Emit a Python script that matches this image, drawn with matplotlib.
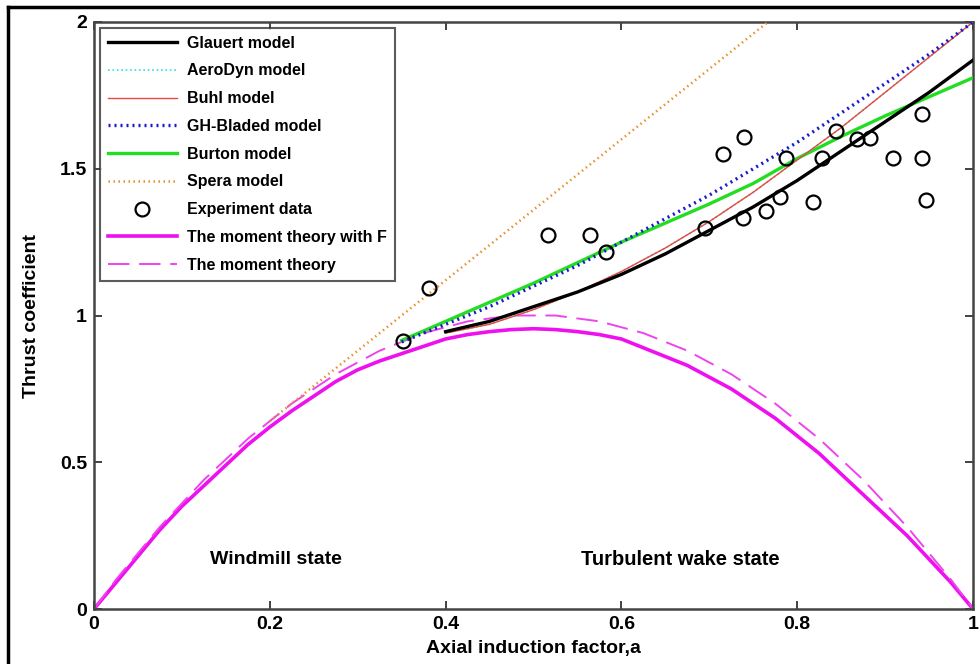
import numpy as np
import matplotlib
matplotlib.use("Agg")
import matplotlib.pyplot as plt
from matplotlib.lines import Line2D

# -----------------------------
# Data
# -----------------------------
a_full = [0, .025, .05, .075, .1, .125, .15, .175, .2, .225, .25, .275, .3, .325,
          .35, .375, .4, .425, .45, .475, .5, .525, .55, .575, .6, .625, .65, .675,
          .7, .725, .75, .775, .8, .825, .85, .875, .9, .925, .95, .975, 1.0]
ct_moment = [0, .10, .19, .28, .36, .44, .51, .58, .64, .70, .75, .80, .84, .88,
             .91, .94, .96, .98, .99, 1.0, 1.0, 1.0, .99, .98, .96, .94, .91, .88,
             .84, .80, .75, .70, .64, .58, .51, .44, .36, .28, .19, .10, 0]
ct_moment_f = [0, .09, .18, .27, .35, .42, .49, .56, .62, .675, .725, .775, .815, .845,
               .87, .895, .92, .935, .945, .952, .955, .952, .945, .935, .92, .89, .86, .83,
               .79, .75, .70, .65, .59, .53, .46, .39, .32, .25, .17, .09, 0]

a_high = [.40, .45, .50, .55, .60, .65, .70, .75, .80, .85, .90, .95, 1.0]
ct_glauert = [.945, .98, 1.03, 1.08, 1.14, 1.21, 1.29, 1.37, 1.46, 1.56, 1.66, 1.76, 1.87]
ct_buhl = [.94, .97, 1.02, 1.08, 1.15, 1.23, 1.32, 1.42, 1.53, 1.64, 1.76, 1.88, 2.0]
ct_aerodyn = [.94, .97, 1.02, 1.08, 1.15, 1.23, 1.32, 1.42, 1.53, 1.64, 1.76, 1.88, 2.0]

a_mid = [.35, .40, .45, .50, .55, .60, .65, .70, .75, .80, .85, .90, .95, 1.0]
ct_bladed = [.91, .97, 1.03, 1.10, 1.17, 1.25, 1.33, 1.41, 1.50, 1.59, 1.69, 1.79, 1.89, 2.0]
ct_burton = [.915, .98, 1.045, 1.11, 1.18, 1.25, 1.315, 1.38, 1.45, 1.535, 1.61, 1.68, 1.745, 1.81]

a_spera = [.2, .3, .4, .5, .6, .7, .8]
ct_spera = [.64, .88, 1.12, 1.36, 1.60, 1.84, 2.08]

a_exp = [.352, .381, .516, .564, .582, .695, .716, .740, .738, .765, .780,
         .787, .818, .828, .844, .868, .883, .909, .942, .942, .947]
ct_exp = [.913, 1.094, 1.275, 1.275, 1.218, 1.297, 1.549, 1.608, 1.332, 1.355, 1.403,
          1.537, 1.386, 1.537, 1.628, 1.600, 1.606, 1.537, 1.688, 1.537, 1.395]

# -----------------------------
# Style
# -----------------------------
plt.rcParams.update({
    "font.family": ["Liberation Sans", "DejaVu Sans"],
    "font.weight": "bold",
    "axes.labelweight": "bold",
})

fig = plt.figure(figsize=(9.8, 6.64), dpi=100)
ax = fig.add_axes([94 / 980, 1 - 609 / 664, 879 / 980, 587 / 664])

ax.plot(a_high, ct_glauert, color="black", lw=2.4, label="Glauert model", zorder=5)
ax.plot(a_high, ct_aerodyn, color="#33dddd", lw=1.2, ls=":", label="AeroDyn model", zorder=4)
ax.plot(a_high, ct_buhl, color="#e8483f", lw=1.0, label="Buhl model", zorder=4)
ax.plot(a_mid, ct_bladed, color="#1a1acc", lw=2.4, ls=(0, (0.6, 1.2)), label="GH-Bladed model", zorder=4)
ax.plot(a_mid, ct_burton, color="#22dd22", lw=2.4, label="Burton model", zorder=3)
ax.plot(a_spera, ct_spera, color="#e8902a", lw=1.8, ls=(0, (0.6, 1.4)), label="Spera model", zorder=3)
ax.plot(a_exp, ct_exp, ls="none", marker="o", ms=10, mfc="none", mec="black", mew=1.6,
        label="Experiment data", zorder=6)
ax.plot(a_full, ct_moment_f, color="#ee10ee", lw=2.6, label="The moment theory with F", zorder=2)
ax.plot(a_full, ct_moment, color="#ee44ee", lw=1.4, ls=(0, (11, 5)), label="The moment theory", zorder=2)

ax.text(0.207, 0.168, "Windmill state", ha="center", va="center", fontsize=14)
ax.text(0.667, 0.168, "Turbulent wake state", ha="center", va="center", fontsize=14.5)

ax.set_xlim(0, 1)
ax.set_ylim(0, 2)
ax.set_xticks([0, 0.2, 0.4, 0.6, 0.8, 1])
ax.set_xticklabels(["0", "0.2", "0.4", "0.6", "0.8", "1"])
ax.set_yticks([0, 0.5, 1, 1.5, 2])
ax.set_yticklabels(["0", "0.5", "1", "1.5", "2"])
ax.tick_params(direction="in", top=True, right=True, length=6, width=1.3,
               labelsize=14, color="#333333", pad=5)
for s in ax.spines.values():
    s.set_linewidth(1.8)
    s.set_color("#444444")
ax.set_xlabel("Axial induction factor,a", fontsize=14, labelpad=5)
ax.set_ylabel("Thrust coefficient", fontsize=14, labelpad=14)

leg = ax.legend(loc="upper left", frameon=True, fancybox=False,
                prop={"size": 11.5, "weight": "bold"},
                borderaxespad=0.35, handlelength=4.35, labelspacing=0.8,
                handletextpad=0.6, borderpad=0.5)
leg.get_frame().set_edgecolor("#333333")
leg.get_frame().set_linewidth(1.5)

# outer frame (left and top edges visible in the picture)
fig.add_artist(Line2D([8 / 980, 8 / 980], [0, 1 - 7 / 664], transform=fig.transFigure,
                      color="black", lw=2.5))
fig.add_artist(Line2D([8 / 980, 1], [1 - 7 / 664, 1 - 7 / 664], transform=fig.transFigure,
                      color="black", lw=2.5))

fig.savefig("out.png", dpi=100)
